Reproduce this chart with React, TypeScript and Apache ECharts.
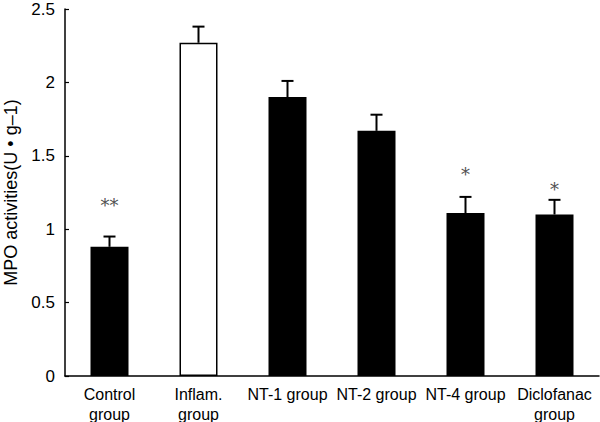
import React, { useEffect, useRef } from "react";
import * as echarts from "echarts";

const categories = ["Control\ngroup", "Inflam.\ngroup", "NT-1 group", "NT-2 group", "NT-4 group", "Diclofanac\ngroup"];
const means = [0.88, 2.27, 1.9, 1.67, 1.11, 1.1];
const errors = [0.07, 0.11, 0.11, 0.11, 0.11, 0.1];
const fills = ["#000", "#fff", "#000", "#000", "#000", "#000"];
const starText = ["**", "", "", "", "*", "*"];
const starValue = [1.16, null, null, null, 1.37, 1.27];
const yTicks = { min: 0, max: 2.5, interval: 0.5 };
const yName = "MPO activities(U • g–1)";

export default function App() {
  const ref = useRef<HTMLDivElement>(null);
  useEffect(() => {
    const chart = echarts.init(ref.current!, null, { renderer: "svg" });
    const font = "'Liberation Sans', Arial, sans-serif";
    const starData: any[] = [];
    starValue.forEach((v, i) => {
      if (v != null) starData.push({ value: [i, v], name: starText[i] });
    });
    chart.setOption({
      animation: false,
      backgroundColor: "#fff",
      grid: { left: 65, right: 1, top: 9, bottom: 46, outerBoundsMode: "none" },
      xAxis: {
        type: "category",
        data: categories,
        axisLine: { lineStyle: { color: "#000", width: 1.5 } },
        axisTick: { inside: true, length: 4, lineStyle: { color: "#000", width: 1.2 } },
        axisLabel: { color: "#000", fontSize: 16, fontFamily: font, margin: 8, lineHeight: 20, interval: 0 },
      },
      yAxis: {
        type: "value",
        min: yTicks.min,
        max: yTicks.max,
        interval: yTicks.interval,
        name: yName,
        nameLocation: "middle",
        nameGap: 45,
        nameTextStyle: { color: "#000", fontSize: 18, fontFamily: font },
        splitLine: { show: false },
        axisLine: { show: true, lineStyle: { color: "#000", width: 1.5 } },
        axisTick: { show: true, inside: true, length: 4, lineStyle: { color: "#000", width: 1.2 } },
        axisLabel: { color: "#000", fontSize: 17, fontFamily: font, margin: 10 },
      },
      series: [
        {
          type: "bar",
          barWidth: 38,
          data: means.map((v, i) => ({
            value: v,
            itemStyle: { color: fills[i], borderColor: "#000", borderWidth: 1.5 },
          })),
          z: 2,
        },
        {
          type: "custom",
          z: 3,
          data: means.map((v, i) => [i, v, v + errors[i]]),
          renderItem: (params: any, api: any) => {
            const x = api.value(0);
            const lo = api.coord([x, api.value(1)]);
            const hi = api.coord([x, api.value(2)]);
            const half = 6;
            return {
              type: "group",
              children: [
                { type: "line", shape: { x1: lo[0], y1: lo[1], x2: hi[0], y2: hi[1] }, style: { stroke: "#000", lineWidth: 2 } },
                { type: "line", shape: { x1: hi[0] - half, y1: hi[1], x2: hi[0] + half, y2: hi[1] }, style: { stroke: "#000", lineWidth: 2 } },
              ],
            };
          },
        },
        {
          type: "scatter",
          symbol: "circle",
          symbolSize: 2,
          itemStyle: { color: "transparent" },
          z: 4,
          data: starData,
          label: {
            show: true,
            position: "inside",
            formatter: (p: any) => p.name,
            color: "#222",
            fontSize: 18,
            fontFamily: "'DejaVu Serif', serif",
          },
        },
      ],
    });
    return () => chart.dispose();
  }, []);
  return <div ref={ref} style={{ width: 600, height: 422, position: "absolute", left: 0, top: 0 }} />;
}
